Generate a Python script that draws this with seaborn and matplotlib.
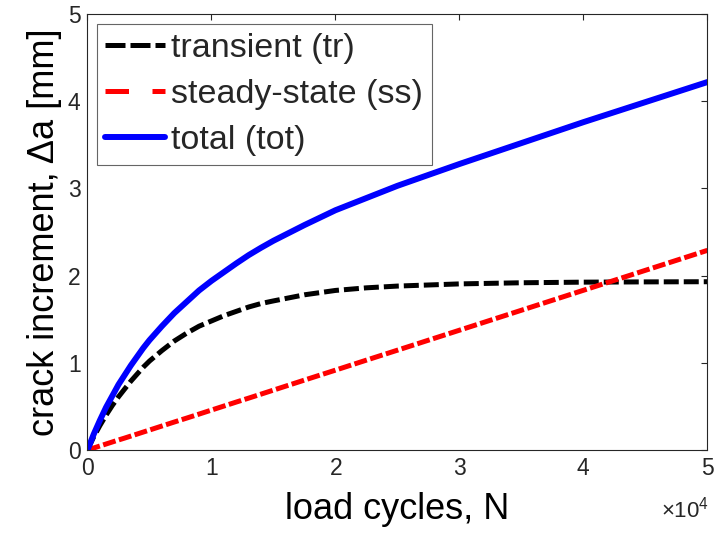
import matplotlib
matplotlib.use("Agg")
import matplotlib.pyplot as plt
import numpy as np
import pandas as pd
import seaborn as sns
from matplotlib.lines import Line2D
from matplotlib.ticker import ScalarFormatter

# Load cycles N and crack increment components [mm]
cycles = [0, 500, 1000, 1500, 2000, 2500, 3000, 3500, 4000, 4500, 5000,
          6000, 7000, 8000, 9000, 10000, 11000, 12000, 13000, 14000, 15000,
          17500, 20000, 22500, 25000, 30000, 35000, 40000, 45000, 50000]
transient = [0, 0.15, 0.28, 0.40, 0.51, 0.61, 0.70, 0.79, 0.87, 0.95, 1.02,
             1.14, 1.25, 1.34, 1.42, 1.48, 1.54, 1.59, 1.64, 1.68, 1.71,
             1.78, 1.83, 1.86, 1.88, 1.905, 1.918, 1.925, 1.928, 1.93]
steady_state = [0, 0.023, 0.046, 0.069, 0.092, 0.115, 0.137, 0.160, 0.183, 0.206, 0.229,
                0.275, 0.321, 0.366, 0.412, 0.458, 0.504, 0.550, 0.595, 0.641, 0.687,
                0.802, 0.916, 1.031, 1.145, 1.374, 1.603, 1.832, 2.061, 2.29]
total = [0, 0.18, 0.34, 0.49, 0.62, 0.75, 0.86, 0.97, 1.07, 1.17, 1.26,
         1.42, 1.57, 1.70, 1.83, 1.94, 2.04, 2.14, 2.235, 2.32, 2.40,
         2.58, 2.75, 2.89, 3.03, 3.28, 3.52, 3.76, 3.99, 4.22]

series_labels = ["transient (tr)", "steady-state (ss)", "total (tot)"]
x_ticks = [0, 10000, 20000, 30000, 40000, 50000]
y_ticks = [0, 1, 2, 3, 4, 5]

sns.set_theme(style="white")
plt.rcParams["font.family"] = ["Liberation Sans", "DejaVu Sans"]
plt.rcParams["mathtext.fontset"] = "custom"
plt.rcParams["mathtext.rm"] = "Liberation Sans"
plt.rcParams["mathtext.it"] = "Liberation Sans:italic"

frames = []
for name, vals in zip(series_labels, [transient, steady_state, total]):
    frames.append(pd.DataFrame({"N": cycles, "da": vals, "series": name}))
df = pd.concat(frames, ignore_index=True)

styles = {
    "transient (tr)": dict(color="black", lw=3.6, ls=(0, (3.0, 1.0))),
    "steady-state (ss)": dict(color="#ff0000", lw=3.6, ls=(0, (2.6, 0.7))),
    "total (tot)": dict(color="#0000ff", lw=4.3, ls="-"),
}

fig = plt.figure(figsize=(7.2, 5.39), dpi=100)
ax = fig.add_axes([0.1215, 0.1651, 0.8611, 0.8089])

for name in series_labels:
    st = styles[name]
    sns.lineplot(data=df[df["series"] == name], x="N", y="da", ax=ax,
                 color=st["color"], linewidth=st["lw"], linestyle=st["ls"],
                 sort=False, legend=False, estimator=None)

ax.set_xlim(0, 50000)
ax.set_ylim(0, 5)
ax.set_xticks(x_ticks)
ax.set_yticks(y_ticks)

# tick labels in units of 10^4, exponent shown separately below the axis end
fmt = ScalarFormatter(useMathText=True)
fmt.set_powerlimits((0, 0))
ax.xaxis.set_major_formatter(fmt)
ax.xaxis.get_offset_text().set_visible(False)
ax.annotate("\u00d710$^{4}$", xy=(1, 0), xycoords="axes fraction",
            xytext=(1, -43), textcoords="offset points", ha="right", va="center",
            fontsize=16, color="#262626")

ax.tick_params(direction="in", length=4.5, width=0.8, colors="#262626",
               top=True, right=True, labelsize=16.5, pad=5)
for sp in ax.spines.values():
    sp.set_color("#262626")
    sp.set_linewidth(0.8)
    sp.set_visible(True)

ax.set_xlabel("load cycles, N", fontsize=26, color="black", labelpad=9)
ax.set_ylabel("crack increment, \u0394a [mm]", fontsize=26, color="black", labelpad=4)

legend_dashes = {
    "transient (tr)": (0, (4.0, 1.0)),
    "steady-state (ss)": (0, (4.7, 4.7)),
    "total (tot)": "-",
}
handles = [Line2D([0], [0], color=styles[n]["color"], lw=styles[n]["lw"],
                  linestyle=legend_dashes[n]) for n in series_labels]
leg = ax.legend(handles, series_labels, loc="upper left",
                bbox_to_anchor=(0.0153, 0.977), borderaxespad=0,
                fontsize=24.5, frameon=True, fancybox=False, shadow=False,
                framealpha=1, edgecolor="#666666", handlelength=1.75,
                handletextpad=0.18, labelspacing=0.45, borderpad=0.25)
leg.get_frame().set_linewidth(0.8)

fig.savefig("out.png", dpi=100)
